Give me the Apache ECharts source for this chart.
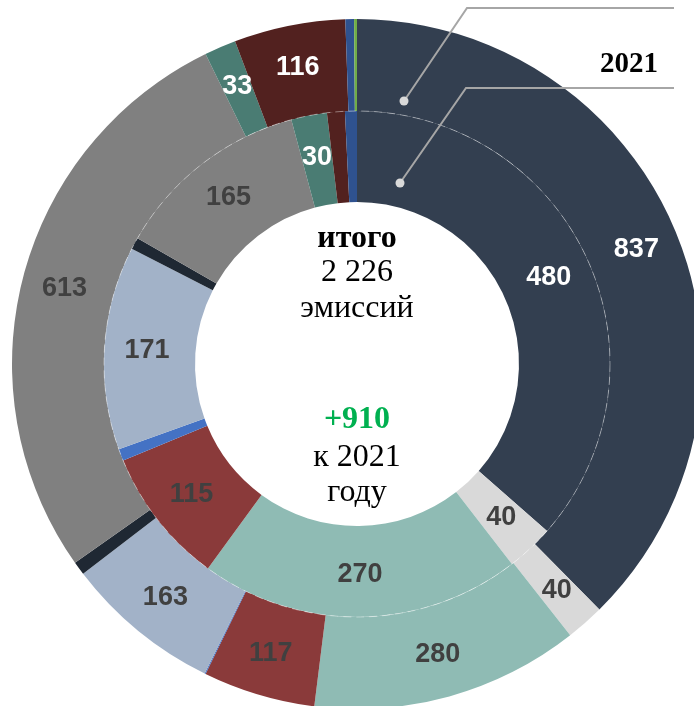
<!DOCTYPE html>
<html>
<head>
<meta charset="utf-8">
<title>Эмиссии 2021 / 2022</title>
<script src="https://cdn.jsdelivr.net/npm/echarts@6/dist/echarts.min.js"></script>
<style>
  html, body { margin: 0; padding: 0; background: #fff; }
  #chart { width: 694px; height: 706px; }
</style>
</head>
<body>
<div id="chart"></div>
<script>
// сегменты по часовой стрелке от 12 часов
const categories = ['Сегмент 1', 'Сегмент 2', 'Сегмент 3', 'Сегмент 4', 'Сегмент 5', 'Сегмент 6',
  'Сегмент 7', 'Сегмент 8', 'Сегмент 9', 'Сегмент 10', 'Сегмент 11', 'Сегмент 12']
// внешнее кольцо (итого 2 226)
const valuesOuter = [837, 40, 280, 117, 1, 163, 14, 613, 33, 116, 9, 3]
// внутреннее кольцо, 2021 (итого 1 316)
const valuesInner = [480, 40, 270, 115, 10, 171, 10, 165, 30, 15, 10, 0]

const colors = ['#333F50', '#D9D9D9', '#8FBBB4', '#8A3A3A', '#4472C4', '#A2B2C8',
  '#1F2833', '#808080', '#4A7C73', '#52211F', '#2F528F', '#70AD47']
const labelColors = ['#fff', '#404040', '#404040', '#404040', '#404040', '#404040',
  '#fff', '#404040', '#fff', '#fff', '#fff', '#fff']

const CX = 357, CY = 364

function ringData(values) {
  return categories.map((name, i) => ({
    name,
    value: values[i],
    itemStyle: { color: colors[i] },
    label: { color: labelColors[i] }
  }))
}

const ringLabel = {
  show: true,
  position: 'inside',
  fontFamily: 'Liberation Sans, Arial, sans-serif',
  fontWeight: 'bold',
  fontSize: 27,
  formatter: p => (p.value >= 20 ? p.value : '')
}

function ring(radius, values) {
  return {
    type: 'pie',
    center: [CX, CY],
    radius,
    startAngle: 90,
    clockwise: true,
    avoidLabelOverlap: false,
    silent: true,
    animation: false,
    label: ringLabel,
    labelLine: { show: false },
    itemStyle: { borderWidth: 0 },
    data: ringData(values)
  }
}

function centerText(text, y, opts = {}) {
  return {
    type: 'text',
    x: CX,
    y,
    silent: true,
    style: {
      text,
      align: 'center',
      verticalAlign: 'middle',
      fontFamily: 'Liberation Serif, Times New Roman, serif',
      fontSize: 32,
      fontWeight: opts.bold ? 'bold' : 'normal',
      fill: opts.color || '#000'
    }
  }
}

const chart = echarts.init(document.getElementById('chart'))
chart.setOption({
  backgroundColor: '#fff',
  series: [
    ring([253, 345], valuesOuter),
    ring([162, 253], valuesInner)
  ],
  graphic: [
    // тонкая пунктирная граница между кольцами
    {
      type: 'circle', silent: true, z: 100,
      shape: { cx: CX, cy: CY, r: 253 },
      style: { fill: null, stroke: 'rgba(255,255,255,0.4)', lineWidth: 1, lineDash: [8, 5] }
    },
    // выноски
    {
      type: 'polyline', silent: true, z: 100,
      shape: { points: [[404, 101], [467, 8], [674, 8]] },
      style: { fill: null, stroke: '#A6A6A6', lineWidth: 2 }
    },
    {
      type: 'polyline', silent: true, z: 100,
      shape: { points: [[400, 183], [466, 88], [674, 88]] },
      style: { fill: null, stroke: '#A6A6A6', lineWidth: 2 }
    },
    { type: 'circle', silent: true, z: 101, shape: { cx: 404, cy: 101, r: 4.5 }, style: { fill: '#D9D9D9' } },
    { type: 'circle', silent: true, z: 101, shape: { cx: 400, cy: 183, r: 4.5 }, style: { fill: '#D9D9D9' } },
    {
      type: 'text', silent: true, z: 101,
      x: 658, y: 65,
      style: {
        text: '2021', align: 'right', verticalAlign: 'middle',
        fontFamily: 'Liberation Serif, Times New Roman, serif',
        fontSize: 29, fontWeight: 'bold', fill: '#000'
      }
    },
    // подписи в центре
    centerText('итого', 239, { bold: true }),
    centerText('2 226', 273),
    centerText('эмиссий', 309),
    centerText('+910', 420, { bold: true, color: '#00B050' }),
    centerText('к 2021', 458),
    centerText('году', 493)
  ]
})
</script>
</body>
</html>
